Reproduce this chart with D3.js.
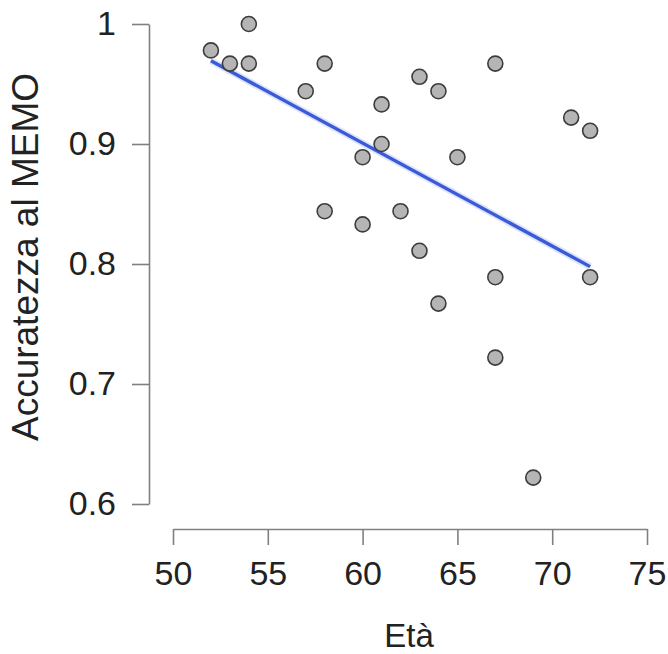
<!DOCTYPE html>
<html>
<head>
<meta charset="utf-8">
<script src="https://cdn.jsdelivr.net/npm/d3@7"></script>
<style>
  html, body { margin: 0; padding: 0; background: #fff; }
  svg { display: block; }
  text { font-family: "Liberation Sans", Arial, Helvetica, sans-serif; fill: #222; }
</style>
</head>
<body>
<svg id="chart" width="668" height="654"></svg>
<script>
// Data
const eta = [52, 53, 54, 54, 57, 58, 58, 60, 60, 61, 61, 62, 63, 63, 64, 64, 65, 67, 67, 67, 69, 71, 72, 72];
const accuratezza = [0.978, 0.967, 1.0, 0.967, 0.944, 0.967, 0.844, 0.889, 0.833, 0.933, 0.900, 0.844,
                     0.956, 0.811, 0.944, 0.767, 0.889, 0.967, 0.789, 0.722, 0.622, 0.922, 0.911, 0.789];
const xTicks = [50, 55, 60, 65, 70, 75];
const yTicks = [0.6, 0.7, 0.8, 0.9, 1.0];
const yTickLabels = ["0.6", "0.7", "0.8", "0.9", "1"];
const xTitle = "Età";
const yTitle = "Accuratezza al MEMO";

const svg = d3.select("#chart");
const x = d3.scaleLinear().domain([50, 75]).range([173, 647]);
const y = d3.scaleLinear().domain([0.6, 1.0]).range([504, 24]);

// Axes (R-style, detached)
const yAxis = d3.axisLeft(y).tickValues(yTicks)
  .tickFormat((d, i) => yTickLabels[i]).tickSize(17).tickSizeOuter(0).tickPadding(16);
const gy = svg.append("g").attr("transform", "translate(149,0)").call(yAxis);
const xAxis = d3.axisBottom(x).tickValues(xTicks).tickFormat(d3.format("d"))
  .tickSize(16).tickSizeOuter(0).tickPadding(16);
const gx = svg.append("g").attr("transform", "translate(0,529)").call(xAxis);
[gx, gy].forEach(g => {
  g.select(".domain").attr("stroke", "#808080").attr("stroke-width", 1.6);
  g.selectAll(".tick line").attr("stroke", "#808080").attr("stroke-width", 1.6);
  g.selectAll(".tick text").attr("font-size", 34)
    .attr("font-family", "'Liberation Sans', Arial, sans-serif").attr("fill", "#2a2a2a");
});

// Linear regression fit from the data
const n = eta.length;
const mx = d3.mean(eta), my = d3.mean(accuratezza);
let sxy = 0, sxx = 0;
for (let i = 0; i < n; i++) { sxy += (eta[i] - mx) * (accuratezza[i] - my); sxx += (eta[i] - mx) ** 2; }
const slope = sxy / sxx, intercept = my - slope * mx;
const [x0, x1] = d3.extent(eta);
const fit = [x0, x1].map(v => [v, intercept + slope * v]);
const line = d3.line().x(d => x(d[0])).y(d => y(d[1]));

svg.append("path").datum(fit).attr("d", line)
  .attr("fill", "none").attr("stroke", "#9fb2f0").attr("stroke-width", 7).attr("stroke-opacity", 0.35);
svg.append("path").datum(fit).attr("d", line)
  .attr("fill", "none").attr("stroke", "#3a5ad8").attr("stroke-width", 3.4);

// Points
svg.append("g").selectAll("circle").data(eta).join("circle")
  .attr("cx", (d) => x(d))
  .attr("cy", (d, i) => y(accuratezza[i]))
  .attr("r", 7.5)
  .attr("fill", "#b5b5b5")
  .attr("stroke", "#3c3c3c")
  .attr("stroke-width", 1.6);

// Axis titles
svg.append("text").attr("x", 409).attr("y", 647).attr("text-anchor", "middle")
  .attr("font-size", 33).text(xTitle);
svg.append("text").attr("transform", "translate(38,257) rotate(-90)").attr("text-anchor", "middle")
  .attr("font-size", 37).text(yTitle);
</script>
</body>
</html>
